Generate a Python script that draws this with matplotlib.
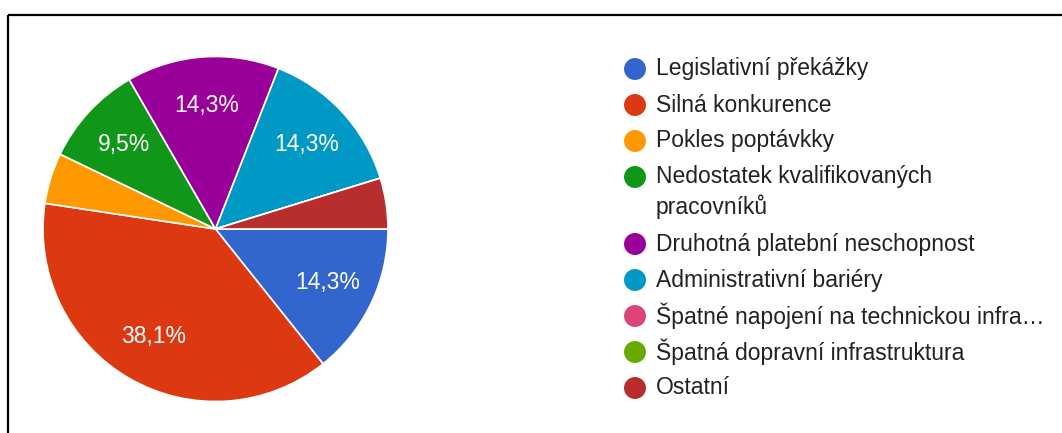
import matplotlib
matplotlib.use("Agg")
import matplotlib.pyplot as plt


LABELS = [
    "Legislativní překážky",
    "Silná konkurence",
    "Pokles poptávkky",
    "Nedostatek kvalifikovaných\npracovníků",
    "Druhotná platební neschopnost",
    "Administrativní bariéry",
    "Špatné napojení na technickou infra…",
    "Špatná dopravní infrastruktura",
    "Ostatní",
]
COUNTS = [3, 8, 1, 2, 3, 3, 0, 0, 1]
COLORS = [
    "#3366cc", "#dc3912", "#ff9900", "#109618", "#990099",
    "#0099c6", "#dd4477", "#66aa00", "#b82e2e",
]

W, H = 1062, 433
FONT = ["Liberation Sans", "DejaVu Sans"]


def pct_label(p):
    if p < 5:
        return ""
    return f"{p:.1f}".replace(".", ",") + "%"


def main():
    plt.rcParams["font.family"] = FONT

    fig = plt.figure(figsize=(W / 100, H / 100), dpi=100)

    # overlay in pixel coordinates for the frame and the legend
    over = fig.add_axes([0, 0, 1, 1])
    over.set_xlim(0, W)
    over.set_ylim(H, 0)
    over.axis("off")
    over.plot([8, W], [15, 15], color="black", lw=1.6, solid_capstyle="butt")
    over.plot([8, 8], [15, H], color="black", lw=1.6, solid_capstyle="butt")

    # pie
    cx, cy, r = 215.5, 229, 172.5
    ax = fig.add_axes([(cx - r) / W, (H - cy - r) / H, 2 * r / W, 2 * r / H])
    _, texts, autotexts = ax.pie(
        COUNTS,
        colors=COLORS,
        startangle=0,
        counterclock=False,
        radius=1,
        autopct=pct_label,
        pctdistance=0.72,
        wedgeprops=dict(edgecolor="white", linewidth=1.2),
        textprops=dict(color="white", fontsize=16.5),
    )
    ax.set_xlim(-1, 1)
    ax.set_ylim(-1, 1)
    ax.set_aspect("equal")

    # legend
    y = 69
    for label, color in zip(LABELS, COLORS):
        over.scatter([635], [y], s=250, color=color, edgecolors="none")
        lines = label.split("\n")
        for k, line in enumerate(lines):
            over.text(656, y + k * 30, line, fontsize=16.5, color="#222222",
                      va="center", ha="left")
        y += 36 + (len(lines) - 1) * 31

    fig.savefig("out.png", dpi=100)
    plt.close(fig)


if __name__ == "__main__":
    main()
